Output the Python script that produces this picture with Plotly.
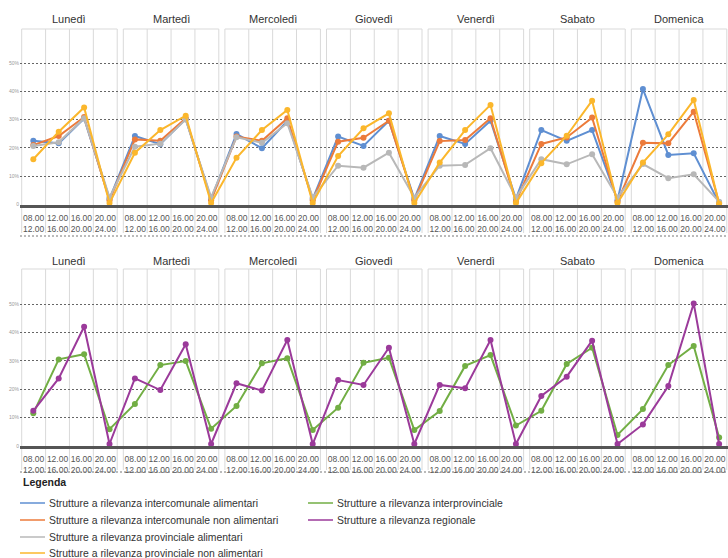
import plotly.graph_objects as go

# ---------------- data ----------------
days = ["Lunedì", "Martedì", "Mercoledì", "Giovedì", "Venerdì", "Sabato", "Domenica"]
slots = ["08.00<br>12.00", "12.00<br>16.00", "16.00<br>20.00", "20.00<br>24.00"]

inter_alim = [22.5, 21.6, 30.4, 2.0,  24.2, 21.3, 30.2, 2.0,  24.9, 19.9, 29.5, 2.0,
              24.0, 20.7, 29.6, 2.0,  24.2, 21.4, 29.6, 2.0,  26.3, 22.5, 26.3, 1.5,
              40.8, 17.5, 18.1, 0.5]
inter_nonalim = [21.0, 24.2, 30.9, 1.5,  23.0, 22.5, 30.5, 1.5,  24.0, 22.5, 30.5, 1.5,
                 22.2, 23.6, 29.6, 1.5,  22.4, 22.8, 30.5, 1.0,  21.4, 23.7, 30.7, 1.0,
                 21.8, 21.6, 32.8, 0.5]
prov_alim = [20.7, 22.0, 30.5, 2.5,  20.4, 21.5, 30.0, 2.5,  23.8, 21.8, 28.7, 2.5,
             13.7, 13.0, 18.3, 2.5,  13.7, 14.0, 19.9, 2.5,  16.0, 14.2, 17.8, 2.5,
             14.3, 9.3, 10.7, 1.0]
prov_nonalim = [16.0, 25.7, 34.3, 0.5,  18.3, 26.3, 31.4, 0.5,  16.5, 26.3, 33.4, 0.5,
                17.1, 26.9, 32.2, 0.5,  14.8, 26.3, 35.2, 0.5,  14.6, 24.3, 36.7, 0.5,
                14.8, 24.8, 36.9, 0.3]
interprov = [11.5, 30.5, 32.3, 5.9,  14.8, 28.5, 29.9, 6.1,  14.1, 29.1, 30.9, 5.6,
             13.5, 29.3, 31.1, 5.6,  12.3, 28.2, 32.0, 7.2,  12.4, 28.9, 34.6, 3.9,
             13.0, 28.5, 35.2, 3.0]
regionale = [12.4, 23.8, 42.0, 0.7,  23.8, 19.7, 35.8, 0.7,  22.1, 19.5, 37.3, 0.7,
             23.2, 21.5, 34.6, 0.7,  21.5, 20.3, 37.3, 0.7,  17.6, 24.4, 37.1, 0.7,
             7.6, 21.1, 50.2, 0.7]

y_tickvals = [0, 10, 20, 30, 40, 50]
y_ticktext = ["0", "10%", "20%", "30%", "40%", "50%"]

top_series = [
    ("Strutture a rilevanza intercomunale alimentari", inter_alim, "#5f8fd2"),
    ("Strutture a rilevanza intercomunale non alimentari", inter_nonalim, "#ec7b3b"),
    ("Strutture a rilevanza provinciale alimentari", prov_alim, "#b8b8b8"),
    ("Strutture a rilevanza provinciale non alimentari", prov_nonalim, "#fbb72c"),
]
bottom_series = [
    ("Strutture a rilevanza interprovinciale", interprov, "#72ae44"),
    ("Strutture a rilevanza regionale", regionale, "#9b3a9a"),
]

# ---------------- layout helpers ----------------
W, H = 728, 558
ML, MR, MT, MB = 20, 0, 29, 112
PH = H - MT - MB
def py(px):  # pixel y -> paper y
    return (H - MB - px) / PH
def pxx(px):  # pixel x -> paper x
    return (px - ML) / (W - ML - MR)

FONT = "Liberation Sans, Arial, sans-serif"
n = len(days) * len(slots)
xs = list(range(n))
panel_off, panel_w = -0.457, 3.76
col_w = panel_w / len(slots)

fig = go.Figure()
for name, vals, col in top_series:
    fig.add_trace(go.Scatter(x=xs, y=vals, mode="lines+markers", name=name,
                             line=dict(color=col, width=2), marker=dict(size=6, color=col),
                             cliponaxis=False, showlegend=False, xaxis="x", yaxis="y"))
for name, vals, col in bottom_series:
    fig.add_trace(go.Scatter(x=xs, y=vals, mode="lines+markers", name=name,
                             line=dict(color=col, width=2), marker=dict(size=6, color=col),
                             cliponaxis=False, showlegend=False, xaxis="x2", yaxis="y2"))

tickvals, ticktext = [], []
for d in range(len(days)):
    x0 = panel_off + 4 * d
    for k in range(len(slots)):
        tickvals.append(x0 + (k + 0.5) * col_w)
        ticktext.append(slots[k])

shapes, annotations = [], []
rows = [  # (xref, top px, lines-bottom px, title px, dashed px)
    ("x", 29, 233, 19, 236),
    ("x2", 269, 470, 261, 472),
]
for xref, top, lbot, tpx, dpx in rows:
    for d, day in enumerate(days):
        x0 = panel_off + 4 * d
        for k in range(len(slots) + 1):
            xv = x0 + k * col_w
            shapes.append(dict(type="line", xref=xref, yref="paper", x0=xv, x1=xv,
                               y0=py(lbot), y1=py(top), line=dict(color="#d9d9d9", width=1),
                               layer="below"))
        shapes.append(dict(type="line", xref=xref, yref="paper", x0=x0, x1=x0 + panel_w,
                           y0=py(top), y1=py(top), line=dict(color="#d9d9d9", width=1),
                           layer="below"))
        annotations.append(dict(text=day, xref=xref, yref="paper", x=x0 + panel_w / 2,
                                y=py(tpx), yanchor="middle", xanchor="center", showarrow=False,
                                font=dict(family=FONT, size=11, color="#333333")))
    shapes.append(dict(type="line", xref="paper", yref="paper", x0=0, x1=1,
                       y0=py(dpx), y1=py(dpx), line=dict(color="#777777", width=1, dash="2px,2px")))

# manual legend
annotations.append(dict(text="<b>Legenda</b>", xref="paper", yref="paper",
                        x=pxx(21), y=py(482), xanchor="left", yanchor="middle",
                        showarrow=False, font=dict(family=FONT, size=10.5, color="#222222")))
leg_rows = [503, 520, 537, 553]
leg_items = [(s, 20, leg_rows[i]) for i, s in enumerate(top_series)] + \
            [(s, 308, leg_rows[i]) for i, s in enumerate(bottom_series)]
for (name, _, col), lx, ly in leg_items:
    shapes.append(dict(type="line", xref="paper", yref="paper",
                       x0=pxx(lx), x1=pxx(lx + 25),
                       y0=py(ly), y1=py(ly), line=dict(color=col, width=1.5)))
    annotations.append(dict(text=name, xref="paper", yref="paper",
                            x=pxx(lx + 27), y=py(ly), xanchor="left",
                            yanchor="middle", showarrow=False,
                            font=dict(family=FONT, size=10.4, color="#333333")))

xr = [-0.524, 27.35]
xaxis_common = dict(range=xr, tickmode="array", tickvals=tickvals, ticktext=ticktext,
                    tickangle=0, showgrid=False, zeroline=False, showline=True,
                    linecolor="#555555", linewidth=3, ticks="", ticklabelstandoff=3,
                    tickfont=dict(family=FONT, size=8.5, color="#555555"), fixedrange=True)
yaxis_common = dict(tickmode="array", tickvals=y_tickvals, ticktext=y_ticktext,
                    showgrid=True, gridcolor="#666666", griddash="2px,2px", gridwidth=1,
                    zeroline=False, showline=False, ticks="",
                    tickfont=dict(family=FONT, size=5, color="#999999"), fixedrange=True)

fig.update_layout(
    width=W, height=H, margin=dict(l=ML, r=MR, t=MT, b=MB),
    paper_bgcolor="white", plot_bgcolor="white",
    xaxis=dict(**xaxis_common, anchor="y"),
    xaxis2=dict(**xaxis_common, anchor="y2"),
    yaxis=dict(**yaxis_common, domain=[py(204.5), 1.0], range=[0, (204.5 - 29) / 2.83], anchor="x"),
    yaxis2=dict(**yaxis_common, domain=[0, py(269)], range=[0, (446 - 269) / 2.84], anchor="x2"),
    shapes=shapes, annotations=annotations, showlegend=False,
)

fig.write_html("out.html", config={"displayModeBar": False},
               post_script="document.body.style.margin='0px';document.body.style.overflow='hidden';")
